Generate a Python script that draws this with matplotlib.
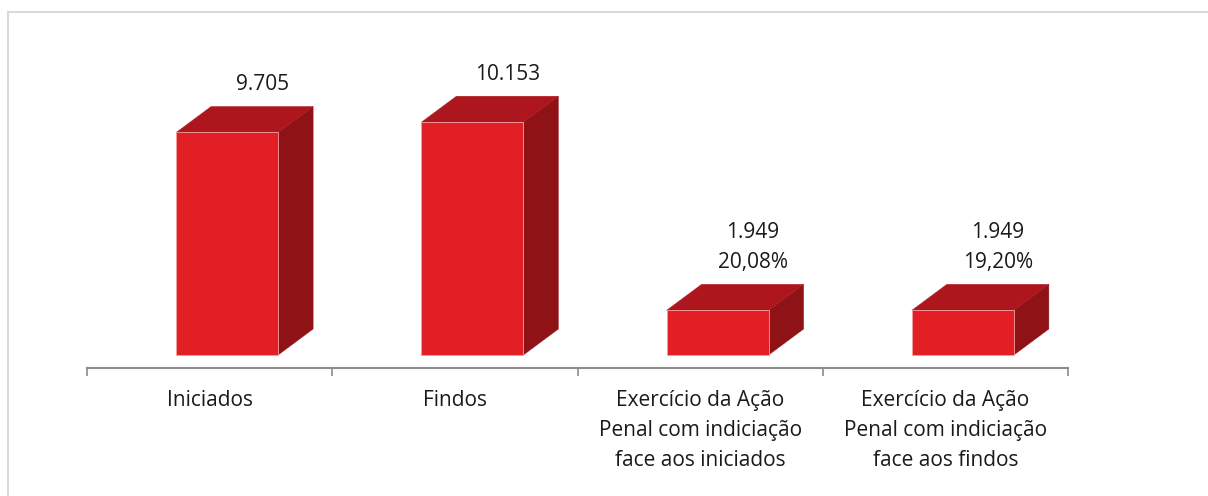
import matplotlib.pyplot as plt
from matplotlib.patches import Polygon, Rectangle

plt.rcParams['font.family'] = ['Open Sans', 'DejaVu Sans']

# data
categories = ['Iniciados', 'Findos',
              'Exercício da Ação\nPenal com indiciação\nface aos iniciados',
              'Exercício da Ação\nPenal com indiciação\nface aos findos']
values = [9705, 10153, 1949, 1949]
value_labels = ['9.705', '10.153', '1.949\n20,08%', '1.949\n19,20%']

front_col = '#e31f26'
top_col = '#ad161c'
side_col = '#8f1217'

W, H = 1208, 496
fig = plt.figure(figsize=(W / 100, H / 100), dpi=100)

# light frame around the chart
fig.patches.append(Rectangle((8 / W, -0.1), 1.2, (H - 12) / H + 0.1,
                             transform=fig.transFigure, fill=False,
                             edgecolor='#d9d9d9', linewidth=1.5))

# axes placed in pixels: x from 87 to 1068, y from 368 (bottom) to 30 (top)
ax = fig.add_axes([87 / W, (H - 368) / H, (1068 - 87) / W, 338 / H])
px_per_val = 222.5 / 9705
ax.set_xlim(-0.5, len(categories) - 0.5)
ax.set_ylim(-13 / px_per_val, (355 - 30) / px_per_val)

# depth of the 3D boxes, in pixels -> data units
dx = 35 / (1068 - 87) * len(categories)
dy = 26 / px_per_val
bar_w = 102 / (1068 - 87) * len(categories)
shift = 17.5 / (1068 - 87) * len(categories)

for i, v in enumerate(values):
    x0 = i - bar_w / 2 + shift
    x1 = x0 + bar_w
    front = Polygon([(x0, 0), (x1, 0), (x1, v), (x0, v)], closed=True,
                    facecolor=front_col, edgecolor='#f2a0a0', linewidth=0.6, zorder=3)
    top = Polygon([(x0, v), (x1, v), (x1 + dx, v + dy), (x0 + dx, v + dy)], closed=True,
                  facecolor=top_col, edgecolor=top_col, linewidth=0.3, zorder=2)
    side = Polygon([(x1, 0), (x1 + dx, dy), (x1 + dx, v + dy), (x1, v)], closed=True,
                   facecolor=side_col, edgecolor=side_col, linewidth=0.3, zorder=2)
    for p in (side, top, front):
        ax.add_patch(p)
    ax.annotate(value_labels[i], xy=((x0 + x1) / 2 + dx, v + dy), xytext=(0, 11),
                textcoords='offset pixels', ha='center', va='bottom',
                fontsize=15, color='#1a1a1a', linespacing=1.6)

# axis styling
for s in ['top', 'right', 'left']:
    ax.spines[s].set_visible(False)
ax.spines['bottom'].set_color('#8c8c8c')
ax.spines['bottom'].set_linewidth(1.5)
ax.set_yticks([])
ax.set_xticks([i - 0.5 for i in range(len(categories) + 1)])
ax.set_xticklabels([])
ax.tick_params(axis='x', which='major', length=6, color='#8c8c8c', width=1.2)
ax.set_xticks(range(len(categories)), minor=True)
ax.set_xticklabels(categories, minor=True, fontsize=15, color='#1a1a1a', linespacing=1.55)
ax.tick_params(axis='x', which='minor', length=0, pad=16)

fig.savefig('out.png', dpi=100)
